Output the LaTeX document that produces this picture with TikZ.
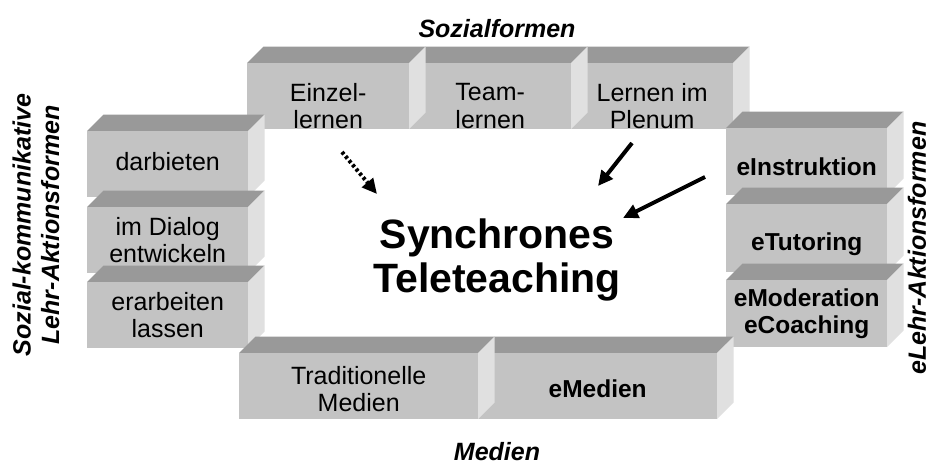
\documentclass[tikz,border=0pt]{standalone}
\usepackage{fontspec}
\setmainfont{Liberation Sans}
\usetikzlibrary{arrows.meta}
\definecolor{topc}{HTML}{999999}
\definecolor{frontc}{HTML}{C3C3C3}
\definecolor{sidec}{HTML}{E0E0E0}
\newcommand\cdepth{16.5}
\tikzset{
 topface/.style={fill=topc},
 sideface/.style={fill=sidec},
 frontface/.style={fill=frontc, inner sep=0pt, draw=none},
 boxtext/.style={align=center, font=\fontsize{25}{27.5}\selectfont, inner sep=0pt},
 boldtext/.style={align=center, font=\fontsize{24.5}{27.5}\selectfont\bfseries, inner sep=0pt},
 heading/.style={font=\fontsize{25}{28.5}\selectfont\bfseries\itshape, inner sep=0pt, align=center},
 bigtitle/.style={font=\fontsize{41}{44}\selectfont\bfseries, inner sep=0pt, align=center},
 bigarrow/.style={line width=4pt, -{Triangle[length=15pt,width=14pt]}},
 dotarrow/.style={line width=4pt, dash pattern=on 3pt off 2.5pt, -{Triangle[length=15pt,width=14pt]}},
}
% #1 name, #2 x, #3 y, #4 w, #5 h, #6 text shift, #7 text style, #8 text
\newcommand\cubebox[8]{%
 \fill[topface] (#2,#3) -- (#2+\cdepth,#3-\cdepth) -- (#2+#4+\cdepth,#3-\cdepth) -- (#2+#4,#3) -- cycle;
 \fill[sideface] (#2+#4,#3) -- (#2+#4+\cdepth,#3-\cdepth) -- (#2+#4+\cdepth,#3+#5-\cdepth) -- (#2+#4,#3+#5) -- cycle;
 \node[frontface, anchor=north west, minimum width=#4pt, minimum height=#5pt] (#1) at (#2,#3) {};
 \node[#7, yshift=#6pt] (#1-t) at (#1.center) {#8};
}
\begin{document}
\begin{tikzpicture}[x=1pt,y=-1pt]
\useasboundingbox (0,0) rectangle (938,467);
\fill[white] (0,0) rectangle (938,467);
% top row
\cubebox{plenum}{571}{63}{162}{66}{-10}{boxtext}{Lernen im\\Plenum}
\cubebox{team}{409}{63}{162}{66}{-10}{boxtext}{Team-\\lernen}
\cubebox{einzel}{247}{63}{162}{66}{-10}{boxtext}{Einzel-\\lernen}
% left column
\cubebox{darb}{87}{131}{161}{66}{3}{boxtext}{darbieten}
\cubebox{dialog}{87}{207}{161}{66}{0}{boxtext}{im Dialog\\entwickeln}
\cubebox{erarb}{87}{282}{161}{66}{0}{boxtext}{erarbeiten\\lassen}
% right column
\cubebox{einst}{726}{128}{161}{67}{-5}{boldtext}{eInstruktion}
\cubebox{etut}{726}{204}{161}{68}{-6}{boldtext}{eTutoring}
\cubebox{emod}{726}{280}{161}{67}{0}{boldtext}{eModeration\\eCoaching}
% bottom row
\cubebox{emed}{478}{353}{239}{66}{-3}{boldtext}{eMedien}
\cubebox{trad}{239}{353}{239}{66}{-3}{boxtext}{Traditionelle\\Medien}
% headings
\node[heading] (hsoz) at (497,29) {Sozialformen};
\node[heading] (hmed) at (497,452) {Medien};
\node[heading, rotate=90] (hleft) at (36,225) {Sozial-kommunikative\\Lehr-Aktionsformen};
\node[heading, rotate=90] (hright) at (917,248) {eLehr-Aktionsformen};
% centre
\node[bigtitle] (title) at (497,260) {Synchrones\\Teleteaching};
% arrows
\coordinate (a1s) at (342,152);
\coordinate (a1e) at (377,194);
\coordinate (a2s) at (632,143);
\coordinate (a2e) at (598,186);
\coordinate (a3s) at (705,177);
\coordinate (a3e) at (623,218);
\draw[dotarrow] (a1s) -- (a1e);
\draw[bigarrow] (a2s) -- (a2e);
\draw[bigarrow] (a3s) -- (a3e);
\end{tikzpicture}
\end{document}
